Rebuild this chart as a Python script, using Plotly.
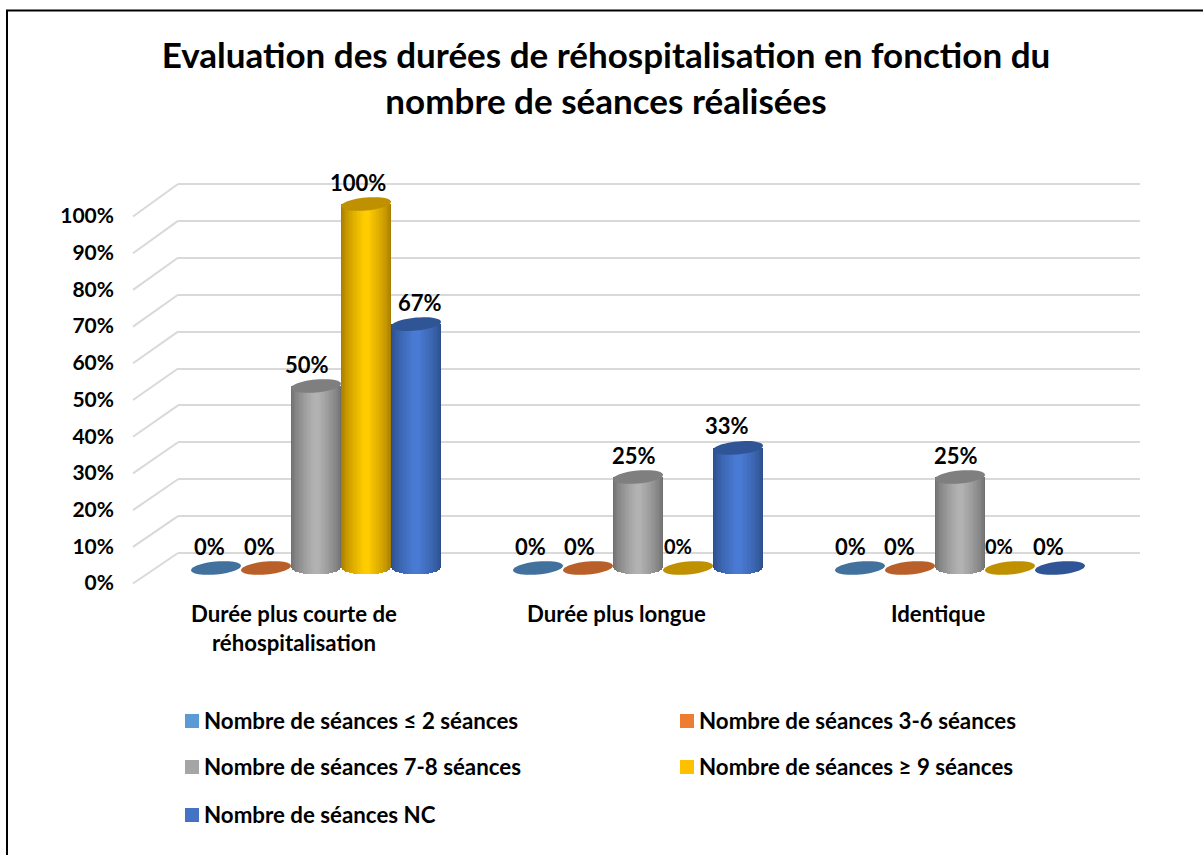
"""
Excel-style 3D cylinder chart: re-admission duration by number of sessions.
"""

import math

import plotly.graph_objects as go

W, H = 1203, 855

categories = ["Durée plus courte de<br>réhospitalisation", "Durée plus longue", "Identique"]
series_names = [
    "Nombre de séances ≤ 2 séances",
    "Nombre de séances 3-6 séances",
    "Nombre de séances 7-8 séances",
    "Nombre de séances ≥ 9 séances",
    "Nombre de séances NC",
]
series_values = [
    [0, 0, 0],
    [0, 0, 0],
    [50, 25, 25],
    [100, 0, 0],
    [67, 33, 0],
]
tick_values = [0, 10, 20, 30, 40, 50, 60, 70, 80, 90, 100]

colors = ["#5B9BD5", "#ED7D31", "#A5A5A5", "#FFC000", "#4472C4"]
center_colors = ["#5B9BD5", "#ED7D31", "#B2B2B2", "#FFCC00", "#4A7BD4"]
edge_colors = ["#3B6A94", "#A5561F", "#707070", "#A87C00", "#2C4F8C"]
cap_colors = ["#41719C", "#B9602A", "#7F7F7F", "#BF9000", "#2F5597"]

# label nudges in px (the 3D labels don't sit centred)
label_dx = [
    [-7, -8, -10],
    [-7, -9, -11],
    [-9, -4, -4],
    [-8, -10, -11],
    [4, -11, -12],
]
small_labels = [(3, 1), (3, 2)]

FONT = "Lato"

# x axis: 1 unit = one group (322 px), groups centred on 0, 1, 2
GROUP_PX = 322
BAR_PX = 50
X_PER_PX = 1 / GROUP_PX
BAR_W = BAR_PX * X_PER_PX

# y axis for the bars: 0 at y=568 px, 100 at y=204 px
Y_PER_PX = 100 / 364
PLOT_TOP, PLOT_BOTTOM = 150, 640
PLOT_LEFT, PLOT_RIGHT = 120, 1160
x_range = [(PLOT_LEFT - 638) * X_PER_PX + 1, (PLOT_RIGHT - 638) * X_PER_PX + 1]
y_range = [(568 - PLOT_BOTTOM) * Y_PER_PX, (568 - PLOT_TOP) * Y_PER_PX]
CAP_RY = 6.5


def px(x):
    return x / W


def py(y):
    return 1 - y / H


def mix(c1, c2, t):
    a = [int(c1[i:i + 2], 16) for i in (1, 3, 5)]
    b = [int(c2[i:i + 2], 16) for i in (1, 3, 5)]
    return "#%02X%02X%02X" % tuple(round(p + (q - p) * t) for p, q in zip(a, b))


def tilted_ellipse(cx, cy, rx_px, ry_px):
    # cx, cy in axis units, radii in px; tilted up to the right like the Excel discs
    pts = []
    for k in range(48):
        a = 2 * math.pi * k / 48
        dx = rx_px * math.cos(a) * X_PER_PX
        dy = (ry_px * math.sin(a) + 0.09 * rx_px * math.cos(a)) * Y_PER_PX
        pts.append((cx + dx, cy + dy))
    return "M" + "L".join(f"{p[0]:.4f},{p[1]:.3f}" for p in pts) + "Z"


fig = go.Figure()

# helper traces so the wall gridlines and front tick labels are drawn
fig.add_trace(go.Scatter(x=[0, 1], y=[0, 100], mode="none", showlegend=False, hoverinfo="skip"))
fig.add_trace(go.Scatter(x=[0, 1], y=[0, 100], yaxis="y3", mode="none", showlegend=False, hoverinfo="skip"))

# sloped side-wall lines between the front ticks and the back wall
for v in tick_values:
    fig.add_shape(
        type="line", xref="paper", yref="paper",
        x0=px(133), x1=px(178),
        y0=py(583.5 - v * 3.67), y1=py(553 - v * 3.69),
        line=dict(color="#D9D9D9", width=2), layer="below",
    )

# cylinder shading: nested strips, edge colour outside, lighter in the middle.
# Each strip reaches a little lower than the wider one, which rounds the bottom.
STRIPS = 18
for s, (name, values) in enumerate(zip(series_names, series_values)):
    xs = [g + (s - 2) * BAR_W for g in range(len(categories))]
    for k in range(STRIPS):
        t = k / (STRIPS - 1)
        ratio = 1 - t * 0.9
        depth = CAP_RY * math.sqrt(1 - ratio ** 2) * Y_PER_PX
        fig.add_trace(go.Bar(
            x=xs,
            y=[v + depth if v > 0 else 0 for v in values],
            base=[-depth if v > 0 else 0 for v in values],
            width=BAR_W * ratio,
            xaxis="x2",
            yaxis="y2",
            marker=dict(color=mix(edge_colors[s], center_colors[s], t ** 0.7), line_width=0),
            name=name,
            showlegend=False,
            hoverinfo="skip",
        ))
    for g, v in enumerate(values):
        # top cap (or flat disc at 0%)
        fig.add_shape(
            type="path", xref="x2", yref="y2", layer="above",
            path=tilted_ellipse(xs[g], v, BAR_PX / 2, CAP_RY),
            fillcolor=cap_colors[s], line_width=0,
        )

# data labels from the values
for s, values in enumerate(series_values):
    for g, v in enumerate(values):
        fig.add_annotation(
            x=g + (s - 2) * BAR_W, y=v, xref="x2", yref="y2",
            yanchor="middle", yshift=22, xshift=label_dx[s][g],
            text=f"{v}%", showarrow=False,
            font=dict(size=20 if (s, g) in small_labels else 22),
        )

# category labels, below the floor
for g, cat in enumerate(categories):
    fig.add_annotation(
        x=g, y=py(598), xref="x2", yref="paper", yanchor="top", xshift=-22,
        text=cat, showarrow=False, font=dict(size=22.2),
    )

# legend laid out in two loose columns, swatch + text
legend_pos = [(185, 721), (680, 721), (185, 767), (680, 767), (185, 815)]
for name, color, (lx, ly) in zip(series_names, colors, legend_pos):
    fig.add_shape(
        type="rect", xref="paper", yref="paper",
        x0=px(lx), x1=px(lx + 14), y0=py(ly + 7), y1=py(ly - 7),
        fillcolor=color, line_width=0,
    )
    fig.add_annotation(
        x=px(lx + 17), y=py(ly - 1), xref="paper", yref="paper",
        xanchor="left", yanchor="middle",
        text=name, showarrow=False, font=dict(size=22.3),
    )

# window frame: left and top edges only
fig.add_shape(type="line", xref="paper", yref="paper", x0=px(7), x1=px(7), y0=0, y1=py(10.5),
              line=dict(color="black", width=2))
fig.add_shape(type="line", xref="paper", yref="paper", x0=px(6), x1=1, y0=py(10.5), y1=py(10.5),
              line=dict(color="black", width=2))

fig.update_layout(
    width=W,
    height=H,
    margin=dict(l=0, r=0, t=0, b=0, autoexpand=False),
    paper_bgcolor="white",
    plot_bgcolor="rgba(0,0,0,0)",
    font=dict(family=FONT, weight="bold", color="black"),
    barmode="overlay",
    bargap=0,
    showlegend=False,
    title=dict(
        text="Evaluation des durées de réhospitalisation en fonction du<br>nombre de séances réalisées",
        x=px(606), xanchor="center", y=py(68), yanchor="middle",
        font=dict(size=35, family=FONT, weight="bold", color="black"),
    ),
    # back wall gridlines; the range runs past 0-100 so the end lines are kept
    xaxis=dict(domain=[px(178), px(1140)], range=[0, 1], visible=False),
    yaxis=dict(
        domain=[py(553 + 18.45), py(184 - 18.45)], range=[-5, 105],
        tickvals=tick_values, showticklabels=False, ticks="",
        showgrid=True, gridcolor="#D9D9D9", gridwidth=2, zeroline=False, showline=False,
    ),
    # bars
    xaxis2=dict(domain=[px(PLOT_LEFT), px(PLOT_RIGHT)], range=x_range, visible=False, anchor="y2"),
    yaxis2=dict(domain=[py(PLOT_BOTTOM), py(PLOT_TOP)], range=y_range, visible=False, anchor="x2"),
    # front tick labels
    yaxis3=dict(
        domain=[py(583), py(216)], range=[0, 100], anchor="free", position=px(114), side="left",
        tickvals=tick_values, ticktext=[f"{v}%" for v in tick_values], ticks="",
        tickfont=dict(size=21), showgrid=False, zeroline=False, showline=False,
    ),
)

fig.write_html(
    "out.html",
    config=dict(displayModeBar=False),
    post_script="document.body.style.margin = '0';",
)
